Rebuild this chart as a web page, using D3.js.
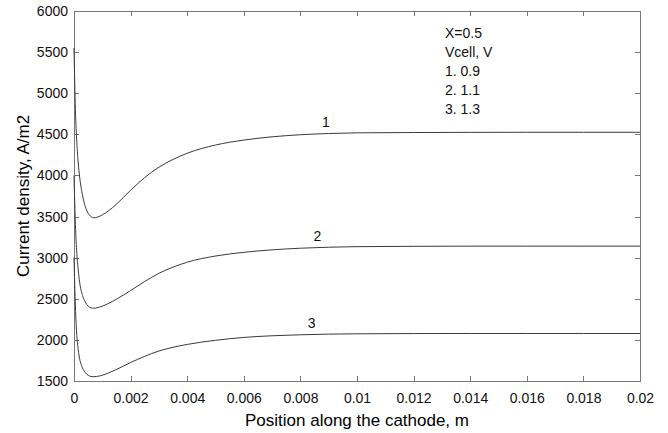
<!DOCTYPE html>
<html><head><meta charset="utf-8">
<script src="https://cdn.jsdelivr.net/npm/d3@7"></script>
<style>body{margin:0;background:#fff}svg{display:block}text{font-family:"Liberation Sans",Arial,sans-serif}</style>
</head><body><svg id="c" width="668" height="433"></svg>
<script>
const xTicks = [0,0.002,0.004,0.006,0.008,0.01,0.012,0.014,0.016,0.018,0.02];
const xTickLabels = ["0","0.002","0.004","0.006","0.008","0.01","0.012","0.014","0.016","0.018","0.02"];
const yTicks = [1500,2000,2500,3000,3500,4000,4500,5000,5500,6000];
const positions = [0,0.00005,0.0001,0.00015,0.0002,0.0003,0.0004,0.0005,0.0006,0.0007,0.0008,0.001,0.0012,0.0015,0.002,0.0025,0.003,0.0035,0.004,0.005,0.006,0.007,0.008,0.009,0.01,0.012,0.014,0.016,0.018,0.02];
const curve1 = [5550,4800,4400,4150,3980,3760,3620,3540,3500,3485,3490,3520,3565,3650,3820,3975,4100,4195,4270,4370,4430,4470,4495,4510,4518,4522,4524,4525,4525,4525];
const curve2 = [4000,3400,3050,2850,2700,2540,2460,2410,2390,2385,2390,2410,2440,2495,2600,2710,2810,2885,2945,3020,3065,3095,3115,3127,3134,3138,3140,3140,3140,3140];
const curve3 = [3000,2400,2050,1880,1770,1660,1600,1570,1555,1552,1555,1570,1595,1640,1725,1800,1865,1910,1945,1995,2030,2050,2062,2070,2074,2077,2078,2078,2078,2078];
const seriesNames = ["1","2","3"];
const labelX = [0.0089,0.0086,0.0084];
const annotation = ["X=0.5","Vcell, V","1. 0.9","2. 1.1","3. 1.3"];

const svg = d3.select("#c");
const L=74,R=640,T=11,B=381;
const x = d3.scaleLinear().domain([0,0.02]).range([L,R]);
const y = d3.scaleLinear().domain([1500,6000]).range([B,T]);
const boxColor="#777";

svg.append("rect").attr("x",L).attr("y",T).attr("width",R-L).attr("height",B-T)
  .attr("fill","none").attr("stroke",boxColor).attr("stroke-width",1).attr("shape-rendering","crispEdges");

const tl=5;
const gx = svg.append("g").attr("transform",`translate(0,${B})`)
  .call(d3.axisBottom(x).tickValues(xTicks).tickFormat((d,i)=>xTickLabels[i]).tickSizeInner(-tl).tickSizeOuter(0).tickPadding(12));
const gxt = svg.append("g").attr("transform",`translate(0,${T})`)
  .call(d3.axisTop(x).tickValues(xTicks).tickFormat("").tickSizeInner(-tl).tickSizeOuter(0));
const gy = svg.append("g").attr("transform",`translate(${L},0)`)
  .call(d3.axisLeft(y).tickValues(yTicks).tickFormat(d3.format("d")).tickSizeInner(-tl).tickSizeOuter(0).tickPadding(6));
const gyr = svg.append("g").attr("transform",`translate(${R},0)`)
  .call(d3.axisRight(y).tickValues(yTicks).tickFormat("").tickSizeInner(-tl).tickSizeOuter(0));
[gx,gxt,gy,gyr].forEach(g=>{
  g.select(".domain").remove();
  g.selectAll(".tick line").attr("stroke",boxColor).attr("shape-rendering","crispEdges");
  g.selectAll("text").attr("font-size",14).attr("fill","#111").attr("font-family","Liberation Sans, Arial, sans-serif");
});

const line = d3.line().x((d,i)=>x(positions[i])).y(d=>y(d)).curve(d3.curveMonotoneX);
[curve1,curve2,curve3].forEach((c,k)=>{
  svg.append("path").datum(c).attr("d",line).attr("fill","none").attr("stroke","#3a3a3a").attr("stroke-width",1);
  const i = positions.findIndex(p=>p>=0.01);
  svg.append("text").attr("x",x(labelX[k])).attr("y",y(c[i])-6)
    .attr("text-anchor","middle").attr("font-size",14).attr("fill","#111").text(seriesNames[k]);
});

svg.append("g").selectAll("text").data(annotation).join("text")
  .attr("x",445).attr("y",(d,i)=>38+i*19).attr("font-size",14).attr("fill","#111").text(d=>d);

svg.append("text").attr("x",(L+R)/2).attr("y",426).attr("text-anchor","middle").attr("font-size",17).attr("fill","#000")
  .text("Position along the cathode, m");
svg.append("text").attr("transform",`translate(29,${(T+B)/2}) rotate(-90)`).attr("text-anchor","middle").attr("font-size",17).attr("fill","#000")
  .text("Current density, A/m2");
</script></body></html>
